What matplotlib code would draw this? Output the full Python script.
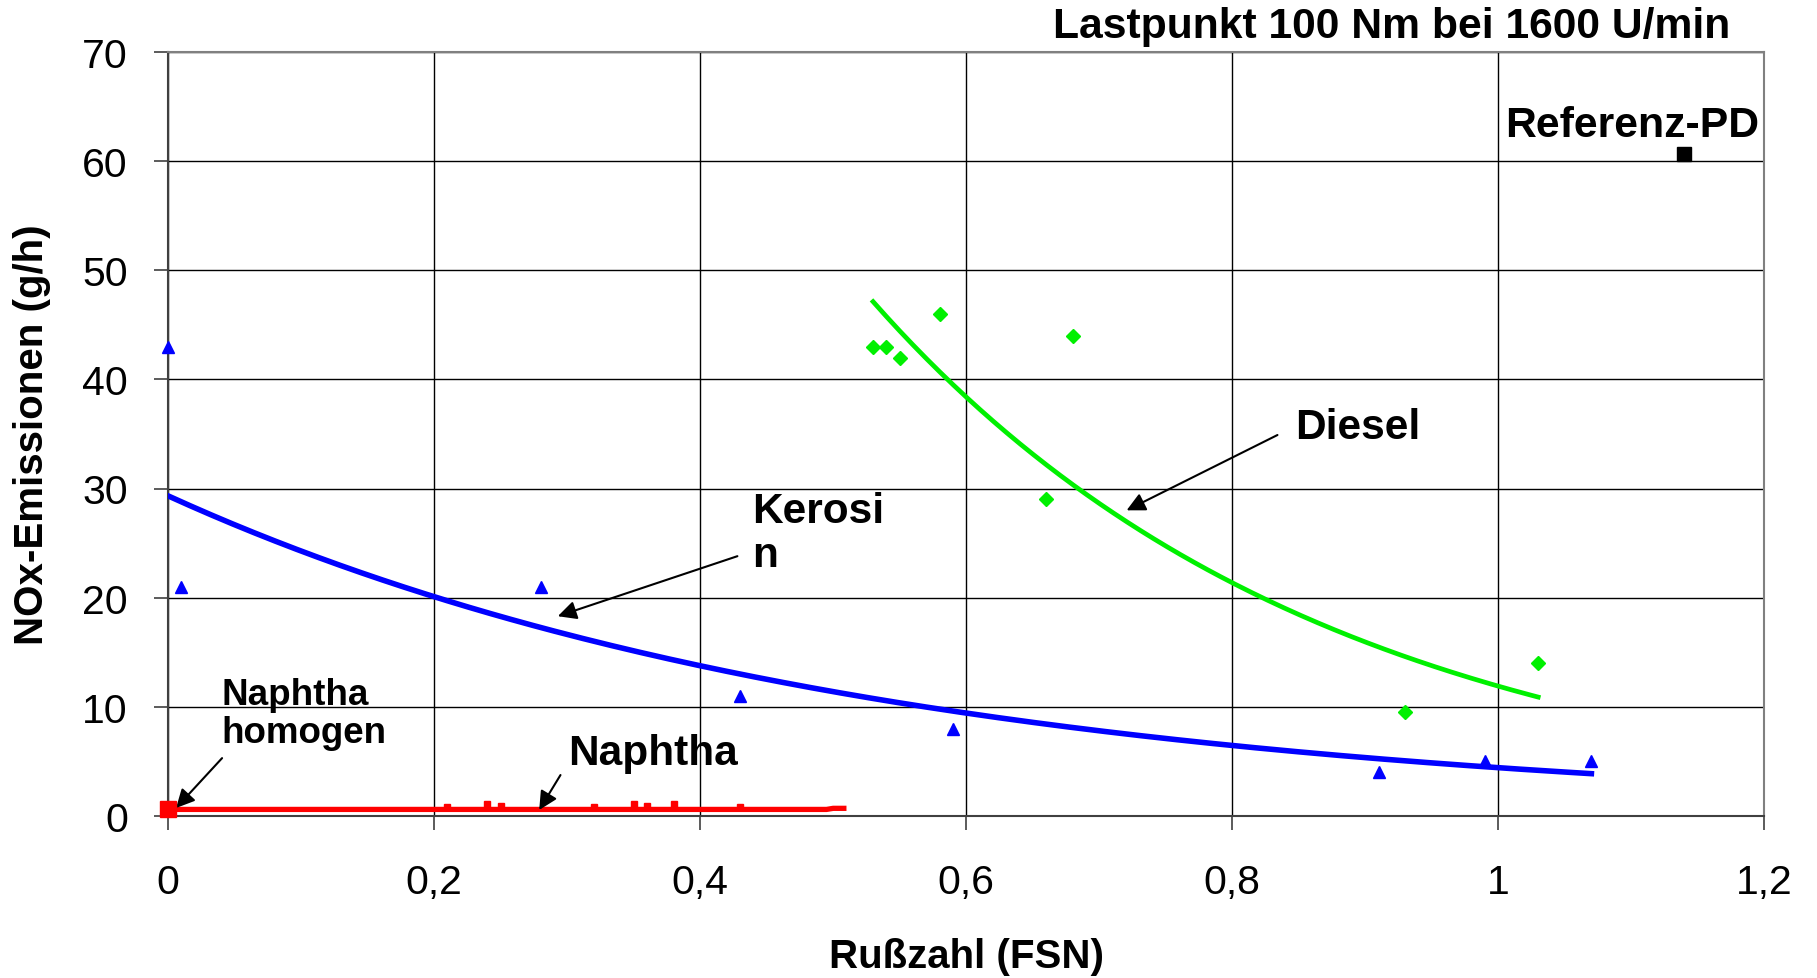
import numpy as np
import matplotlib
matplotlib.use('Agg')
import matplotlib.pyplot as plt

plt.rcParams['font.family'] = ['Liberation Sans', 'DejaVu Sans']

kerosin_x = [0.0, 0.01, 0.28, 0.43, 0.59, 0.91, 0.99, 1.07]
kerosin_y = [43, 21, 21, 11, 8, 4, 5, 5]

diesel_x = [0.53, 0.54, 0.55, 0.58, 0.66, 0.68, 0.93, 1.03]
diesel_y = [43, 43, 42, 46, 29, 44, 9.5, 14]

naphtha_x = [0.21, 0.24, 0.25, 0.32, 0.35, 0.36, 0.38, 0.43]
naphtha_y = [0.8, 1.1, 0.9, 0.8, 1.1, 0.9, 1.1, 0.8]
naphtha_line_x = [0.0, 0.495, 0.50, 0.51]
naphtha_line_y = [0.6, 0.6, 0.7, 0.7]

homogen_x = [0.0]
homogen_y = [0.65]

referenz_x = [1.14]
referenz_y = [60.6]

x_ticks = [0, 0.2, 0.4, 0.6, 0.8, 1.0, 1.2]
x_ticklabels = ['0', '0,2', '0,4', '0,6', '0,8', '1', '1,2']
y_ticks = [0, 10, 20, 30, 40, 50, 60, 70]


# exponentielle Trendlinie wie in Excel
def exp_trend(x, y, n=200):
    b, a = np.polyfit(np.array(x), np.log(np.array(y)), 1)
    xs = np.linspace(min(x), max(x), n)
    return xs, np.exp(a) * np.exp(b * xs)


fig = plt.figure(figsize=(18.17, 9.79), dpi=100)
ax = fig.add_axes([0.0925, 0.1655, 0.8785, 0.7805])

kx, ky = exp_trend(kerosin_x, kerosin_y)
dx, dy = exp_trend(diesel_x, diesel_y)

ax.plot(kx, ky, color='#0000FF', lw=4.0, zorder=3)
ax.plot(kerosin_x, kerosin_y, ls='none', marker='^', ms=9, color='#0000FF',
        clip_on=False, zorder=4)

ax.plot(dx, dy, color='#00F000', lw=3.4, zorder=3)
ax.plot(diesel_x, diesel_y, ls='none', marker='D', ms=7, color='#00F000', zorder=4)

ax.plot(naphtha_x, naphtha_y, ls='none', marker='s', ms=4.5, color='#FF0000', zorder=3)
ax.plot(naphtha_line_x, naphtha_line_y, color='#FF0000', lw=3.8, zorder=3,
        solid_capstyle='butt')
ax.plot(homogen_x, homogen_y, ls='none', marker='s', ms=11, color='#FF0000',
        clip_on=False, zorder=5)

ax.plot(referenz_x, referenz_y, ls='none', marker='s', ms=10, color='black', zorder=4)

ax.set_xlim(0, 1.2)
ax.set_ylim(0, 70)
ax.set_xticks(x_ticks)
ax.set_xticklabels(x_ticklabels)
ax.set_yticks(y_ticks)
ax.tick_params(axis='both', labelsize=29.5, length=10, width=1.2, color='#404040')
ax.tick_params(axis='x', pad=24)
ax.tick_params(axis='y', pad=19)

ax.grid(True, color='black', lw=1.0)
ax.set_axisbelow(True)
for side in ['top', 'right']:
    ax.spines[side].set_color('#808080')
    ax.spines[side].set_linewidth(1.5)
for side in ['left', 'bottom']:
    ax.spines[side].set_color('#404040')
    ax.spines[side].set_linewidth(1.5)

ax.set_xlabel('Rußzahl (FSN)', fontsize=29, fontweight='bold')
ax.xaxis.set_label_coords(0.5, -0.183)
ax.xaxis.label.set_va('center')
ax.set_ylabel('NOx-Emissionen (g/h)', fontsize=29, fontweight='bold')
ax.yaxis.set_label_coords(-0.0852, 0.5)
ax.yaxis.label.set_va('center')

fig.text(0.952, 0.972, 'Lastpunkt 100 Nm bei 1600 U/min', ha='right', va='center',
         fontsize=30.7, fontweight='bold')

# Beschriftungen mit Pfeilen
arrow = dict(arrowstyle='-|>', mutation_scale=28, lw=1.5, color='black',
             shrinkA=0, shrinkB=0)
lbl = dict(fontsize=30.5, fontweight='bold', ha='left', va='center')

ax.text(1.005, 63.3, 'Referenz-PD', **dict(lbl, fontsize=30.8))
ax.text(0.847, 35.6, 'Diesel', **lbl)
ax.annotate('', xy=(0.7206, 28.0), xytext=(0.834, 34.9), arrowprops=arrow)
ax.text(0.439, 25.9, 'Kerosi\nn', linespacing=1.12, **lbl)
ax.annotate('', xy=(0.293, 18.3), xytext=(0.428, 23.8), arrowprops=arrow)
ax.text(0.301, 5.8, 'Naphtha', **lbl)
ax.annotate('', xy=(0.279, 0.55), xytext=(0.295, 3.75), arrowprops=arrow)
ax.text(0.040, 9.4, 'Naphtha\nhomogen', fontsize=26.5, fontweight='bold',
        ha='left', va='center', linespacing=1.12)
ax.annotate('', xy=(0.006, 0.73), xytext=(0.0406, 5.3), arrowprops=arrow)

fig.savefig('out.png', dpi=100)
